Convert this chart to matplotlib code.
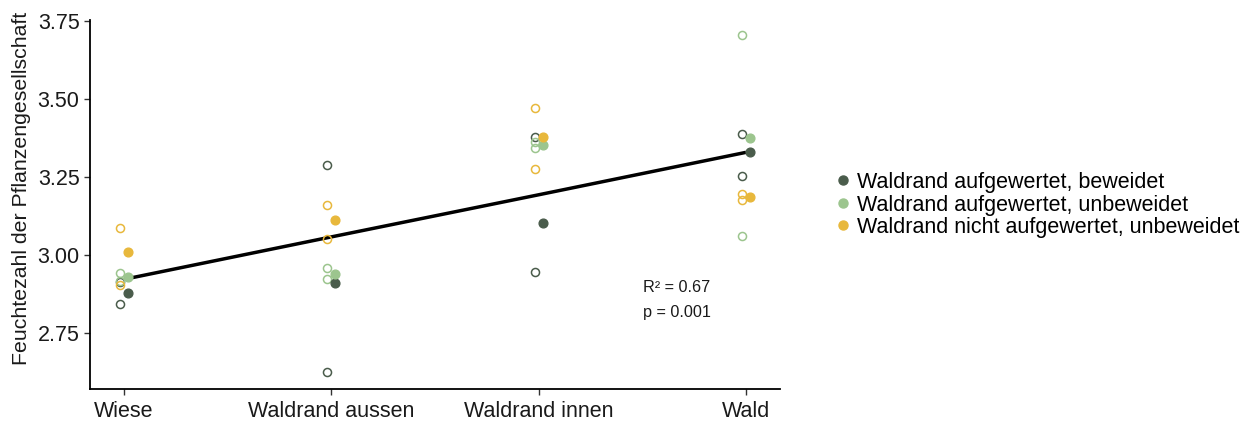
import matplotlib
matplotlib.use("Agg")
import matplotlib.pyplot as plt
from matplotlib.lines import Line2D
import numpy as np

plt.rcParams['font.family'] = ['Liberation Sans', 'DejaVu Sans']

categories = ["Wiese", "Waldrand aussen", "Waldrand innen", "Wald"]
groups = ["Waldrand aufgewertet, beweidet",
          "Waldrand aufgewertet, unbeweidet",
          "Waldrand nicht aufgewertet, unbeweidet"]
colors = ["#4a5c4b", "#9cc58e", "#e8b83c"]

# individual observations (open circles) per group, per category
obs_beweidet = [[2.913, 2.842], [3.288, 2.625], [3.379, 2.944], [3.387, 3.254]]
obs_unbeweidet = [[2.941, 2.916], [2.957, 2.922], [3.362, 3.342], [3.705, 3.060]]
obs_nicht = [[3.085, 2.905], [3.160, 3.050], [3.470, 3.276], [3.196, 3.176]]
# group values (filled points)
mean_beweidet = [2.879, 2.909, 3.102, 3.329]
mean_unbeweidet = [2.929, 2.939, 3.353, 3.374]
mean_nicht = [3.009, 3.111, 3.379, 3.185]
# fitted regression line at each category
fit_values = [2.922, 3.058, 3.193, 3.329]
r2_text = "R² = 0.67"
p_text = "p = 0.001"

obs = [obs_beweidet, obs_unbeweidet, obs_nicht]
means = [mean_beweidet, mean_unbeweidet, mean_nicht]

fig = plt.figure(figsize=(12.49, 4.21), dpi=100)
ax = fig.add_axes([90/1249, 1-389/421, (780-90)/1249, (389-20)/421])

xpos = np.arange(1, len(categories) + 1)
off = 0.02

ax.plot(xpos, fit_values, color="black", lw=2.5, zorder=2, solid_capstyle="butt")

for g in range(3):
    for i, vals in enumerate(obs[g]):
        ax.plot([xpos[i] - off] * len(vals), vals, 'o', ms=5.8, mfc='none',
                mec=colors[g], mew=1.1, zorder=3)
    ax.plot(xpos + off, means[g], 'o', ms=6.3, color=colors[g], mec=colors[g],
            zorder=4)

ax.text(3.667, 2.895, r2_text, ha='center', va='center', fontsize=11.7, color='#1a1a1a')
ax.text(3.667, 2.815, p_text, ha='center', va='center', fontsize=11.7, color='#1a1a1a')

ax.set_xlim(0.836, 4.164)
ax.set_ylim(2.5705, 3.7532)
ax.set_xticks(xpos)
ax.set_xticklabels(categories)
ax.set_yticks([2.75, 3.00, 3.25, 3.50, 3.75])
ax.set_yticklabels(["2.75", "3.00", "3.25", "3.50", "3.75"])
ax.tick_params(axis='y', labelsize=15.5, colors='#333333', labelcolor='#1a1a1a',
               length=4.5, width=1.0, pad=3)
ax.tick_params(axis='x', labelsize=15.5, colors='#333333', labelcolor='#1a1a1a',
               length=4.5, width=1.0, pad=4.3)
for s in ['top', 'right']:
    ax.spines[s].set_visible(False)
for s in ['left', 'bottom']:
    ax.spines[s].set_linewidth(1.3)
    ax.spines[s].set_color('black')
ax.set_ylabel("Feuchtezahl der Pflanzengesellschaft", fontsize=15.3, color='#1a1a1a')
ax.yaxis.set_label_coords((31 - 90) / 690, (389 - 188) / 369)

handles = [Line2D([], [], marker='o', ls='none', ms=6.5, color=c) for c in colors]
fig.legend(handles, groups, loc='center left', bbox_to_anchor=(832/1249, 1-205/421),
           frameon=False, fontsize=15.5, handletextpad=0.15, labelspacing=0.07,
           handlelength=1.0, borderpad=0, borderaxespad=0)

fig.savefig("out.png", dpi=100)
